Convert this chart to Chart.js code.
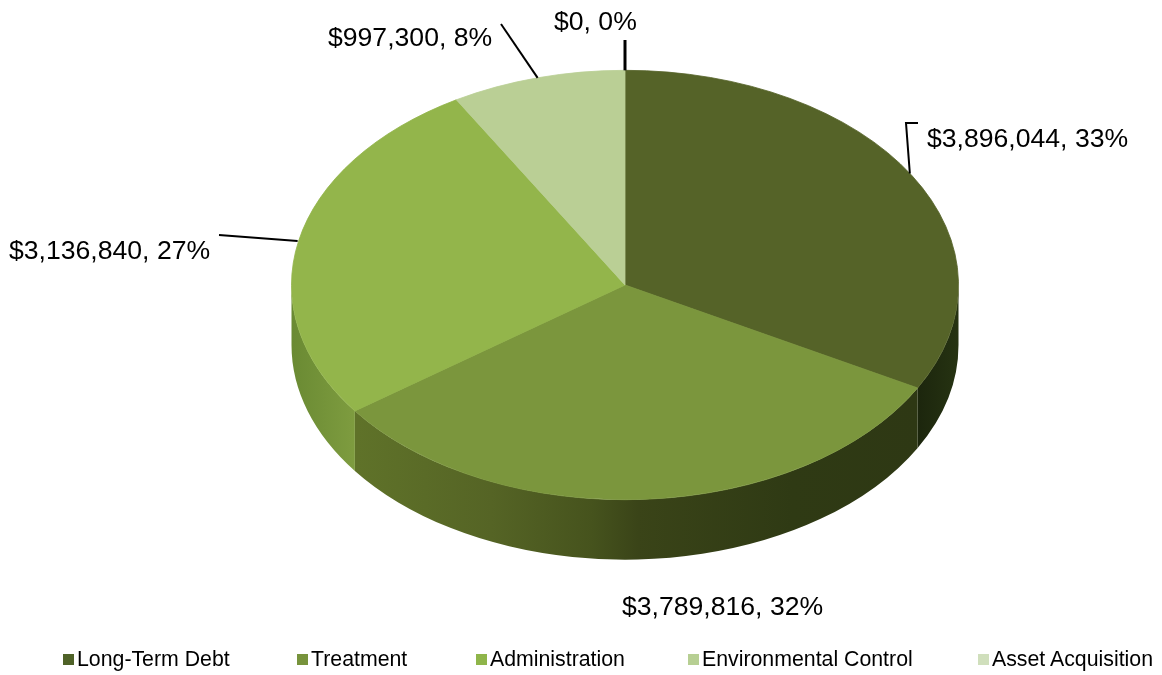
<!DOCTYPE html>
<html>
<head>
<meta charset="utf-8">
<title>Expenses</title>
<script src="https://cdn.jsdelivr.net/npm/chart.js@4"></script>
<style>
    body { margin: 0; background: #fff; }
    #wrap { position: relative; width: 1162px; height: 675px; overflow: hidden; }
    #pie { display: block; }
    #legend { position: absolute; left: 0; top: 647px; font: 21.3px/24px "Liberation Sans", Arial, sans-serif; color: #000; }
    #legend span { position: absolute; top: 0; white-space: nowrap; }
    #legend i { position: absolute; top: 7px; width: 11px; height: 11px; }
</style>
</head>
<body>
<div id="wrap">
    <canvas id="pie" width="1162" height="675"></canvas>
    <div id="legend"></div>
</div>
<script>
const categories = ['Long-Term Debt', 'Treatment', 'Administration', 'Environmental Control', 'Asset Acquisition'];
const amounts = [3896044, 3789816, 3136840, 997300, 0];

const topColors = ['#556328', '#7b963d', '#93b54b', '#bacf95', '#d0dfbc'];
const legendColors = ['#4f6228', '#77933c', '#8fb54a', '#b7cf93', '#d0dfbc'];
const legendX = [63, 297, 476, 688, 978];

// ellipse look: the pie is squashed and shifted, walls are drawn under it
const centerY = 285;
const squash = 215 / 334;
const depth = 60;

// horizontal colour stops of each wall, x as fraction across the whole pie
const wallStops = [
    [[0.94, '#1c260d'], [1, '#263312']],
    [[0.1, '#5f7229'], [0.3, '#556425'], [0.45, '#46531d'], [0.52, '#3a4418'], [0.75, '#2f3a14'], [0.94, '#2e3814']],
    [[0, '#6a8a33'], [0.1, '#7f9d40']],
    [[0, '#000'], [1, '#000']],
    [[0, '#000'], [1, '#000']]
];

// where each data label sits and how its leader runs
const labelLayout = [
    {x: 927, y: 140, line: [[918, 123], [906, 123]], nudge: [-2, -2], width: 2},
    {x: 622, y: 608, line: null},
    {x: 9, y: 252, line: [[219, 235]], nudge: [-1, 0], width: 2},
    {x: 328, y: 39, line: [[501, 24]], nudge: [0, 0], width: 2},
    {x: 554, y: 23, line: [[625, 40]], nudge: [0, 0], width: 3}
];

const total = amounts.reduce((a, b) => a + b, 0);

function labelText(i) {
    return '$' + amounts[i].toLocaleString('en-US') + ', ' + Math.round(amounts[i] / total * 100) + '%';
}

const squashedPie = {
    id: 'squashedPie',
    beforeDatasetsDraw(chart) {
        const ctx = chart.ctx;
        const arcs = chart.getDatasetMeta(0).data;
        arcs.forEach((arc, i) => {
            const a0 = Math.max(arc.startAngle, 0);
            const a1 = Math.min(arc.endAngle, Math.PI);
            if (a1 <= a0) return;
            const rx = arc.outerRadius;
            const ry = rx * squash;
            const grad = ctx.createLinearGradient(arc.x - rx, 0, arc.x + rx, 0);
            wallStops[i].forEach(s => grad.addColorStop(s[0], s[1]));
            ctx.beginPath();
            ctx.ellipse(arc.x, centerY, rx, ry, 0, a0, a1);
            ctx.ellipse(arc.x, centerY + depth, rx, ry, 0, a1, a0, true);
            ctx.closePath();
            ctx.fillStyle = grad;
            ctx.fill();
        });
        const first = arcs[0];
        ctx.save();
        ctx.translate(0, centerY);
        ctx.scale(1, squash);
        ctx.translate(0, -first.y);
    },
    afterDatasetsDraw(chart) {
        const ctx = chart.ctx;
        ctx.restore();
        const arcs = chart.getDatasetMeta(0).data;
        ctx.font = '26.6px "Liberation Sans", Arial, sans-serif';
        ctx.textBaseline = 'middle';
        ctx.textAlign = 'left';
        arcs.forEach((arc, i) => {
            const spot = labelLayout[i];
            if (spot.line) {
                const mid = (arc.startAngle + arc.endAngle) / 2;
                const ax = arc.x + Math.cos(mid) * arc.outerRadius + spot.nudge[0];
                const ay = centerY + Math.sin(mid) * arc.outerRadius * squash + spot.nudge[1];
                ctx.beginPath();
                ctx.moveTo(ax, ay);
                spot.line.slice().reverse().forEach(p => ctx.lineTo(p[0], p[1]));
                ctx.lineWidth = spot.width;
                ctx.strokeStyle = '#000';
                ctx.stroke();
            }
            ctx.fillStyle = '#000';
            ctx.fillText(labelText(i), spot.x, spot.y);
        });
    }
};

new Chart(document.getElementById('pie'), {
    type: 'pie',
    data: {
        labels: categories,
        datasets: [{
            data: amounts,
            backgroundColor: topColors,
            borderColor: topColors,
            borderWidth: [1, 1, 1, 1, 0]
        }]
    },
    options: {
        responsive: false,
        animation: false,
        layout: { padding: { left: 88, bottom: 7 } },
        plugins: {
            legend: { display: false },
            tooltip: { enabled: false }
        }
    },
    plugins: [squashedPie]
});

const legendBox = document.getElementById('legend');
categories.forEach((name, i) => {
    const box = document.createElement('i');
    box.style.left = legendX[i] + 'px';
    box.style.background = legendColors[i];
    const text = document.createElement('span');
    text.style.left = (legendX[i] + 14) + 'px';
    text.textContent = name;
    legendBox.appendChild(box);
    legendBox.appendChild(text);
});
</script>
</body>
</html>
